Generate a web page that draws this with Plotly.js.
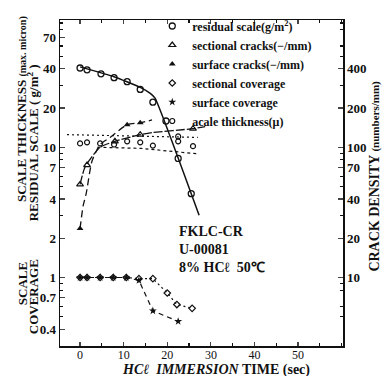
<!DOCTYPE html>
<html><head><meta charset="utf-8">
<script src="https://cdn.plot.ly/plotly-3.0.1.min.js"></script>
<style>html,body{margin:0;padding:0;background:#fff}</style>
</head><body><div id="chart" style="width:389px;height:376px"></div>
<script>
// HCl immersion time (sec) and values
const residualT = [0, 1.6, 4.8, 7.8, 10.8, 13.8, 16.7, 19.7, 22.5, 25.5];
const residualV = [40.6, 39.3, 36.6, 34.2, 31.9, 27.8, 22.2, 15.9, 8.2, 4.4];
const residualFitT = [0, 7.8, 13.8, 16.1, 17.2, 27.3];
const residualFitV = [41.4, 34.8, 28.8, 25.9, 23.8, 3.0];

const sectCrackT = [0, 1.6, 8, 13.8, 25.9];
const sectCrackV = [51.8, 73, 111, 125, 139];
const sectCrackLineT = [0, 1.15, 4.6, 8, 13.8, 16.5, 25.9, 28.7];
const sectCrackLineV = [51.8, 70.6, 100, 111, 125, 129.5, 139, 144];

const surfCrackT = [0, 10.8, 13.8];
const surfCrackV = [23.8, 149, 154];
const surfCrackLineT = [0, 0.7, 1.4, 2.75, 4.6, 6.9, 10.8, 13.8, 16.5];
const surfCrackLineV = [23.8, 35.4, 44, 78.5, 105, 119, 149, 154, 162];

const sectCovT = [0, 1.6, 4.6, 7.6, 10.6, 13.5, 16.7, 20, 22.2, 25.7];
const sectCovV = [1, 1, 1, 1, 1, 0.98, 0.98, 0.76, 0.62, 0.58];
const surfCovT = [0, 1.6, 4.6, 7.6, 10.6, 13.5, 16.7, 22.5];
const surfCovV = [1, 1, 1, 1, 1, 0.95, 0.555, 0.46];

const thickT = [0, 1.6, 4.6, 7.8, 10.8, 13.8, 16.7, 22.5, 22.5, 25.9];
const thickV = [10.7, 10.9, 10.7, 10.5, 11.1, 10.9, 10.3, 12.1, 11.1, 10.2];
const bandUpperT = [-3, 27];
const bandUpperV = [12.5, 11.9];
const bandLowerT = [4, 14, 27];
const bandLowerV = [10.0, 9.8, 8.9];

const xTicks = [0, 10, 20, 30, 40, 50];
const leftTicks = [0.4, 0.7, 1, 2, 4, 7, 10, 20, 40, 70];
const leftTickText = ['0.4', '0.7', '1', '2', '4', '7', '10', '20', '40', '70'];
const rightTicks = [10, 20, 40, 70, 100, 200, 400];
const rightTickText = ['10', '20', '40', '70', '100', '200', '400'];
const leftMinor = [0.3, 0.5, 0.6, 0.8, 0.9, 3, 5, 6, 8, 9, 30, 50, 60, 80, 90];
const rightMinor = [3, 5, 6, 8, 9, 30, 50, 60, 80, 90, 300, 500, 600, 800, 900];

const K = '#111';
const serif = 'Liberation Serif';
const lg = Math.log10;

const traces = [
  {x: residualT, y: residualV, mode: 'markers', name: 'residual scale(g/m<sup>2</sup>)',
   marker: {symbol: 'circle-open', size: 6, color: K, line: {width: 1.3}}},
  {x: sectCrackT, y: sectCrackV, yaxis: 'y2', mode: 'markers', name: 'sectional cracks(−/mm)',
   marker: {symbol: 'triangle-up-open', size: 6, color: K, line: {width: 1.2}}},
  {x: surfCrackT, y: surfCrackV, yaxis: 'y2', mode: 'markers', name: 'surface cracks(−/mm)',
   marker: {symbol: 'triangle-up', size: 6, color: K}},
  {x: sectCovT, y: sectCovV, mode: 'markers', name: 'sectional coverage',
   marker: {symbol: 'diamond-open', size: 5, color: K, line: {width: 1.2}}},
  {x: surfCovT, y: surfCovV, mode: 'markers', name: 'surface coverage',
   marker: {symbol: 'star', size: 6, color: K}},
  {x: thickT, y: thickV, mode: 'markers', name: 'acale thickness(μ)',
   marker: {symbol: 'circle-open', size: 5, color: K, line: {width: 1.2}}},
  // lines
  {x: residualFitT, y: residualFitV, mode: 'lines', showlegend: false,
   line: {color: K, width: 1.5, shape: 'spline', smoothing: 0.4}},
  {x: sectCrackLineT, y: sectCrackLineV, yaxis: 'y2', mode: 'lines', showlegend: false,
   line: {color: K, width: 1.3, dash: '9px,2px', shape: 'spline', smoothing: 0.6}},
  {x: surfCrackLineT, y: surfCrackLineV, yaxis: 'y2', mode: 'lines', showlegend: false,
   line: {color: K, width: 1.3, dash: '7px,4px', shape: 'spline', smoothing: 0.6}},
  {x: sectCovT, y: sectCovV, mode: 'lines', showlegend: false,
   line: {color: K, width: 1.2, dash: '2px,3px'}},
  {x: surfCovT, y: surfCovV, mode: 'lines', showlegend: false,
   line: {color: K, width: 1.2, dash: '5px,4px'}},
  {x: bandUpperT, y: bandUpperV, mode: 'lines', showlegend: false,
   line: {color: K, width: 1.2, dash: '2px,3px'}},
  {x: bandLowerT, y: bandLowerV, mode: 'lines', showlegend: false,
   line: {color: K, width: 1.2, dash: '3px,3px'}}
];

const layout = {
  width: 389, height: 376,
  margin: {l: 60, r: 46, t: 13, b: 30},
  paper_bgcolor: '#fff', plot_bgcolor: '#fff',
  font: {family: serif, color: K},
  showlegend: true,
  legend: {x: 0.326, y: 1.026, xanchor: 'left', yanchor: 'top', bgcolor: 'rgba(0,0,0,0)',
           font: {family: serif, size: 12, color: K, weight: 'bold'}, itemwidth: 30,
           tracegroupgap: 0},
  xaxis: {range: [-4.6, 60.3], tickvals: xTicks, ticks: 'inside', ticklen: 4, tickwidth: 1.2,
          ticklabelstandoff: -3,
          showline: true, linewidth: 1.5, linecolor: K, mirror: 'ticks', showgrid: false, zeroline: false,
          tickfont: {family: serif, size: 12, color: K},
          minor: {dtick: 5, ticks: 'inside', ticklen: 3, tickcolor: K, showgrid: false}},
  yaxis: {type: 'log', range: [-0.526, 1.977], tickvals: leftTicks, ticktext: leftTickText,
          ticks: 'inside', ticklen: 5, tickwidth: 1.2, showline: true, linewidth: 1.5, linecolor: K,
          showgrid: false, zeroline: false,
          tickfont: {family: serif, size: 13, color: K, weight: 'bold'},
          minor: {tickvals: leftMinor, ticks: 'inside', ticklen: 3, tickcolor: K, showgrid: false}},
  yaxis2: {type: 'log', range: [0.474, 2.977], overlaying: 'y', side: 'right',
           tickvals: rightTicks, ticktext: rightTickText,
           ticks: 'inside', ticklen: 5, tickwidth: 1.2, showline: true, linewidth: 1.5, linecolor: K,
           showgrid: false, zeroline: false,
           tickfont: {family: serif, size: 13, color: K, weight: 'bold'},
           minor: {tickvals: rightMinor, ticks: 'inside', ticklen: 3, tickcolor: K, showgrid: false}},
  annotations: [
    {xref: 'x', yref: 'y', x: 22.2, y: lg(1.65), xanchor: 'left', yanchor: 'middle', align: 'left',
     showarrow: false, text: 'FKLC-CR<br>U-00081<br>8% HCℓ  50℃',
     font: {family: serif, size: 14, color: K, weight: 'bold'}},
    {xref: 'paper', yref: 'paper', x: 0.551, y: -0.073, xanchor: 'center', yanchor: 'middle', showarrow: false,
     text: '<i>HCℓ  IMMERSION</i> TIME (sec)', font: {family: serif, size: 14, color: K, weight: 'bold'}},
    {xref: 'paper', yref: 'paper', x: -0.134, y: 0.727, xanchor: 'center', yanchor: 'middle', showarrow: false,
     textangle: -90, text: 'SCALE THICKNESS <span style="font-size:10px">(max. micron)</span>',
     font: {family: serif, size: 13, color: K, weight: 'bold'}},
    {xref: 'paper', yref: 'paper', x: -0.095, y: 0.622, xanchor: 'center', yanchor: 'middle', showarrow: false,
     textangle: -90, text: 'RESIDUAL SCALE ( g/m<sup>2</sup> )',
     font: {family: serif, size: 13, color: K, weight: 'bold'}},
    {xref: 'paper', yref: 'paper', x: -0.134, y: 0.19, xanchor: 'center', yanchor: 'middle', showarrow: false,
     textangle: -90, text: 'SCALE', font: {family: serif, size: 13, color: K, weight: 'bold'}},
    {xref: 'paper', yref: 'paper', x: -0.095, y: 0.15, xanchor: 'center', yanchor: 'middle', showarrow: false,
     textangle: -90, text: 'COVERAGE', font: {family: serif, size: 13, color: K, weight: 'bold'}},
    {xref: 'paper', yref: 'paper', x: 1.11, y: 0.52, xanchor: 'center', yanchor: 'middle', showarrow: false,
     textangle: -90, text: 'CRACK DENSITY <span style="font-size:11px">(numbers/mm)</span>',
     font: {family: serif, size: 14, color: K, weight: 'bold'}}
  ]
};

Plotly.newPlot('chart', traces, layout, {displayModeBar: false, staticPlot: true});
</script>
</body></html>
